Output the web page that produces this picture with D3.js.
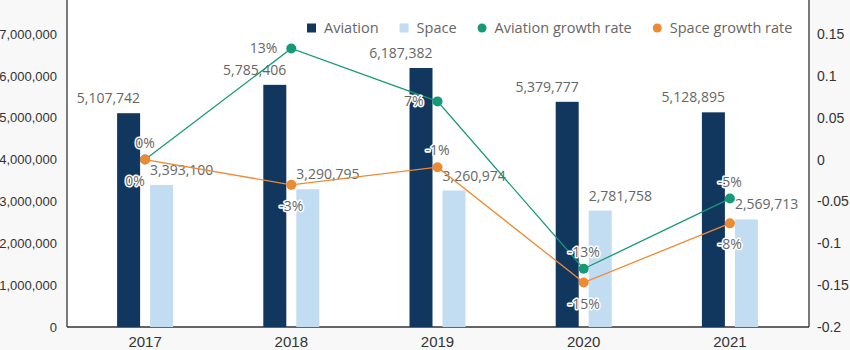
<!DOCTYPE html>
<html>
<head>
<meta charset="utf-8">
<script src="https://cdn.jsdelivr.net/npm/d3@7"></script>
<style>
  body { margin: 0; background: #f8f8f8; }
  svg { display: block; font-family: "Open Sans", "Noto Sans", sans-serif; }
</style>
</head>
<body>
<svg id="chart" width="850" height="350"></svg>
<script>
// data
var years = ["2017", "2018", "2019", "2020", "2021"];
var aviation = [5107742, 5785406, 6187382, 5379777, 5128895];
var space = [3393100, 3290795, 3260974, 2781758, 2569713];
var aviationGrowth = [0, 0.1327, 0.0695, -0.1305, -0.0466];
var spaceGrowth = [0, -0.0302, -0.0091, -0.1469, -0.0762];
var leftTicks = [0, 1000000, 2000000, 3000000, 4000000, 5000000, 6000000, 7000000];
var rightTicks = [-0.2, -0.15, -0.1, -0.05, 0, 0.05, 0.1, 0.15];
// where each growth label sits relative to its point
var aviationLabelPos = ["bottomleft", "left", "left", "top", "top"];
var spaceLabelPos = ["top", "bottom", "top", "bottom", "bottom"];

var colors = {aviation: "#12375f", space: "#c2dcf1", aGrowth: "#159a77", sGrowth: "#ef8a34"};

var svg = d3.select("#chart");
var plot = {left: 67, right: 809, top: -10, bottom: 327};

// ###############################
var xScale = d3.scaleBand().domain(years).range([72, 803]);
var yLeft = d3.scaleLinear().domain([0, 7000000]).range([327, 34]);
var yRight = d3.scaleLinear().domain([-0.2, 0.15]).range([327, 34]);
var cx = d => xScale(d) + xScale.bandwidth() / 2;

svg.append("rect")
  .attr("x", plot.left).attr("y", plot.top)
  .attr("width", plot.right - plot.left).attr("height", plot.bottom - plot.top)
  .attr("fill", "#fff");

// axes
var fmtComma = d3.format(",");
var yAxisL = svg.append("g").attr("transform", `translate(${plot.left},0)`)
  .call(d3.axisLeft(yLeft).tickValues(leftTicks).tickFormat(fmtComma).tickSize(0).tickPadding(10));
var yAxisR = svg.append("g").attr("transform", `translate(${plot.right},0)`)
  .call(d3.axisRight(yRight).tickValues(rightTicks).tickFormat(d => String(+d.toFixed(2))).tickSize(0).tickPadding(8));
var xAxis = svg.append("g").attr("transform", `translate(0,${plot.bottom})`)
  .call(d3.axisBottom(xScale).tickSize(0).tickPadding(9));

[[yAxisL, "13px"], [yAxisR, "14px"], [xAxis, "15px"]].forEach(function(a) {
  a[0].select(".domain").remove();
  a[0].selectAll("text").style("font-size", a[1]).attr("fill", "#333").style("font-family", "inherit");
});

// axis lines
svg.append("line").attr("x1", plot.left).attr("x2", plot.left).attr("y1", plot.top).attr("y2", plot.bottom).attr("stroke", "#333").attr("stroke-width", 1.3);
svg.append("line").attr("x1", plot.right).attr("x2", plot.right).attr("y1", plot.top).attr("y2", plot.bottom).attr("stroke", "#333").attr("stroke-width", 1.3);
svg.append("line").attr("x1", plot.left).attr("x2", plot.right).attr("y1", plot.bottom).attr("y2", plot.bottom).attr("stroke", "#333").attr("stroke-width", 1.3);

// ###################################################
// bars
var barW = 23, barGap = 10;
var rows = years.map((y, i) => ({year: y, av: aviation[i], sp: space[i], ag: aviationGrowth[i], sg: spaceGrowth[i], ap: aviationLabelPos[i], spp: spaceLabelPos[i]}));

svg.selectAll("rect.av").data(rows).join("rect").attr("class", "av")
  .attr("x", d => cx(d.year) - barGap / 2 - barW)
  .attr("y", d => yLeft(d.av))
  .attr("width", barW)
  .attr("height", d => yLeft(0) - yLeft(d.av))
  .attr("fill", colors.aviation);

svg.selectAll("rect.sp").data(rows).join("rect").attr("class", "sp")
  .attr("x", d => cx(d.year) + barGap / 2)
  .attr("y", d => yLeft(d.sp))
  .attr("width", barW)
  .attr("height", d => yLeft(0) - yLeft(d.sp))
  .attr("fill", colors.space);

// bar value labels
svg.selectAll("text.avl").data(rows).join("text").attr("class", "avl")
  .attr("x", d => cx(d.year) - barGap / 2)
  .attr("y", d => yLeft(d.av) - 10)
  .attr("text-anchor", "end")
  .style("font-size", "14px").attr("fill", "#666")
  .text(d => fmtComma(d.av));

svg.selectAll("text.spl").data(rows).join("text").attr("class", "spl")
  .attr("x", d => cx(d.year) + barGap / 2)
  .attr("y", d => yLeft(d.sp) - 10)
  .attr("text-anchor", "start")
  .style("font-size", "14px").attr("fill", "#666")
  .text(d => fmtComma(d.sp));

// ###################################################
// growth lines
function drawLine(key, color) {
  svg.append("path").datum(rows)
    .attr("fill", "none").attr("stroke", color).attr("stroke-width", 1.3)
    .attr("d", d3.line().x(d => cx(d.year)).y(d => yRight(d[key])));
  svg.selectAll("circle." + key).data(rows).join("circle").attr("class", key)
    .attr("cx", d => cx(d.year)).attr("cy", d => yRight(d[key]))
    .attr("r", 5).attr("fill", color);
}
drawLine("ag", colors.aGrowth);
drawLine("sg", colors.sGrowth);

var pct = v => Math.round(v * 100) + "%";
function drawLabels(key, posKey) {
  svg.selectAll("text.l" + key).data(rows).join("text").attr("class", "l" + key)
    .attr("x", function(d) {
      var p = d[posKey], x = cx(d.year);
      if (p === "left") return x - 14;
      if (p === "bottomleft") return x - 10;
      return x;
    })
    .attr("y", function(d) {
      var p = d[posKey], y = yRight(d[key]);
      if (p === "top") return y - 12;
      if (p === "bottom" || p === "bottomleft") return y + 26;
      return y + 5;
    })
    .attr("text-anchor", d => d[posKey] === "left" ? "end" : "middle")
    .style("font-size", "14px").attr("fill", "#666")
    .attr("stroke", "#fff").attr("stroke-width", 3).attr("stroke-linejoin", "round")
    .style("paint-order", "stroke")
    .text(d => pct(d[key]));
}
drawLabels("ag", "ap");
drawLabels("sg", "spp");

// ###################################################
// legend
var legendItems = [
  {name: "Aviation", color: colors.aviation, shape: "rect"},
  {name: "Space", color: colors.space, shape: "rect"},
  {name: "Aviation growth rate", color: colors.aGrowth, shape: "circle"},
  {name: "Space growth rate", color: colors.sGrowth, shape: "circle"}
];
var lx = 307, ly = 28;
legendItems.forEach(function(it) {
  if (it.shape === "rect") {
    svg.append("rect").attr("x", lx).attr("y", ly - 4.5).attr("width", 9).attr("height", 9).attr("fill", it.color);
  } else {
    svg.append("circle").attr("cx", lx + 4.5).attr("cy", ly).attr("r", 4.5).attr("fill", it.color);
  }
  var t = svg.append("text").attr("x", lx + 17).attr("y", ly + 5)
    .style("font-size", "14.5px").attr("fill", "#666").text(it.name);
  lx += 17 + t.node().getComputedTextLength() + 21;
});
</script>
</body>
</html>
